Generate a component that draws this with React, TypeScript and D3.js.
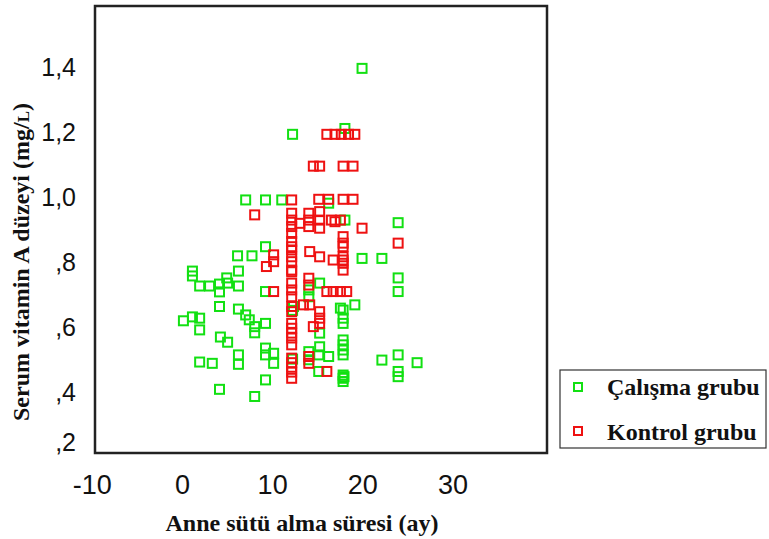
import React from "react";
import * as d3 from "d3";

// Anne sütü alma süresi (ay) vs Serum vitamin A düzeyi (mg/L)
const calismaGrubu: [number, number][] = [
  [6.9, 0.99], [9.1, 0.99], [10.9, 0.99],
  [6.0, 0.818], [7.6, 0.818],
  [1.0, 0.771], [1.0, 0.756], [6.1, 0.771],
  [1.8, 0.725], [2.9, 0.725], [4.0, 0.731], [4.0, 0.707], [4.8, 0.75], [4.9, 0.734], [6.1, 0.725],
  [4.0, 0.662], [6.1, 0.654], [6.9, 0.636], [7.3, 0.621], [7.9, 0.6], [7.9, 0.581],
  [0.0, 0.618], [1.0, 0.63], [1.8, 0.626], [1.8, 0.59],
  [4.1, 0.568], [4.9, 0.552],
  [6.1, 0.513], [6.1, 0.484],
  [1.8, 0.491], [3.2, 0.487],
  [4.0, 0.407], [7.9, 0.385], [9.1, 0.436],
  [9.1, 0.846], [9.1, 0.708], [9.1, 0.61],
  [9.1, 0.534], [9.1, 0.513], [10.0, 0.518], [10.0, 0.487],
  [12.1, 1.192], [12.2, 0.662], [12.1, 0.65], [12.1, 0.5],
  [15.1, 0.734], [13.9, 0.713], [13.9, 0.692],
  [15.1, 0.58], [15.1, 0.538], [16.1, 0.508], [15.0, 0.513], [15.0, 0.462], [13.9, 0.523], [13.9, 0.498],
  [16.1, 0.98], [17.9, 0.928],
  [17.4, 0.657], [19.0, 0.667], [17.7, 0.651], [17.7, 0.626], [17.7, 0.61],
  [17.7, 0.559], [17.7, 0.544], [17.7, 0.528], [17.7, 0.513],
  [17.7, 0.451], [17.7, 0.441], [17.7, 0.431], [17.8, 0.446],
  [19.8, 0.81], [22.0, 0.81],
  [23.8, 0.75], [23.8, 0.708], [23.8, 0.92],
  [22.0, 0.497], [23.8, 0.513], [25.9, 0.489], [23.8, 0.462], [23.8, 0.446],
  [17.9, 1.21], [19.8, 1.395],
];

const kontrolGrubu: [number, number][] = [
  [12, 0.99], [12, 0.949], [12, 0.928], [12, 0.908], [12, 0.887], [12, 0.862], [12, 0.846],
  [12, 0.836], [12, 0.815], [12, 0.8], [12, 0.774], [12, 0.769], [12, 0.734], [12, 0.713],
  [12, 0.692], [12, 0.662], [12, 0.646], [12, 0.61], [12, 0.595], [12, 0.58], [12, 0.565],
  [12, 0.544], [12, 0.503], [12, 0.489], [12, 0.475], [12, 0.46], [12, 0.441],
  [7.9, 0.944],
  [10.0, 0.821], [10.0, 0.8], [9.2, 0.785], [10.0, 0.708],
  [15.9, 1.192], [16.8, 1.192], [17.5, 1.192], [18.3, 1.192], [19.0, 1.192],
  [14.4, 1.094], [15.1, 1.094], [17.7, 1.094], [18.8, 1.094],
  [15.0, 0.992], [16.1, 0.992], [17.7, 0.992], [18.8, 0.992],
  [13.9, 0.949], [13.9, 0.928], [13.9, 0.908], [15.1, 0.954], [15.1, 0.928], [15.1, 0.903],
  [16.4, 0.928], [17.4, 0.928], [12.9, 0.918], [16.8, 0.923],
  [19.8, 0.903],
  [17.7, 0.877], [17.7, 0.857], [17.7, 0.846], [17.7, 0.815], [17.7, 0.805], [17.7, 0.795], [17.7, 0.774],
  [16.6, 0.805], [15.1, 0.815], [23.8, 0.857], [14.0, 0.831],
  [15.9, 0.708], [16.6, 0.708], [17.4, 0.708], [18.1, 0.708],
  [13.9, 0.749], [13.9, 0.728], [13.3, 0.667], [14.0, 0.667],
  [15.1, 0.646], [15.1, 0.626], [15.1, 0.61], [14.4, 0.6],
  [13.9, 0.508], [13.9, 0.487], [15.9, 0.462],
];

const xTicks = [-10, 0, 10, 20, 30];
const yTicks = [0.2, 0.4, 0.6, 0.8, 1.0, 1.2, 1.4];
const legendLabels = ["Çalışma grubu", "Kontrol grubu"];
const seriesColors = ["#12e012", "#ee1111"];

const W = 769;
const H = 539;
const frame = { left: 95, right: 547, top: 6, bottom: 453 };

const fmtY = (v: number) => d3.format(".1f")(v).replace(".", ",").replace(/^0/, "");

export default function App() {
  const x = d3.scaleLinear().domain([-9.8, 40.3]).range([frame.left, frame.right]);
  const y = d3.scaleLinear().domain([0.211, 1.587]).range([frame.bottom, frame.top]);
  const m = 9; // marker inner size

  const series = [calismaGrubu, kontrolGrubu];
  const serif = "Liberation Serif, Times New Roman, serif";
  const sans = "Liberation Sans, Arial, sans-serif";

  return (
    <svg
      width={W}
      height={H}
      style={{ position: "absolute", left: 0, top: 0, background: "#fff" }}
      xmlns="http://www.w3.org/2000/svg"
    >
      <rect x={0} y={0} width={W} height={H} fill="#fff" />
      {/* points */}
      {series.map((data, si) => (
        <g key={si}>
          {data.map(([dx, dy], i) => (
            <rect
              key={i}
              x={x(dx) - m / 2}
              y={y(dy) - m / 2}
              width={m}
              height={m}
              fill="none"
              stroke={seriesColors[si]}
              strokeWidth={2}
            />
          ))}
        </g>
      ))}
      {/* frame */}
      <rect
        x={frame.left}
        y={frame.top}
        width={frame.right - frame.left}
        height={frame.bottom - frame.top}
        fill="none"
        stroke="#222"
        strokeWidth={2.5}
      />
      {/* y tick labels */}
      {yTicks.map((t) => (
        <text
          key={t}
          x={76}
          y={Math.min(y(t), 442) + 9}
          textAnchor="end"
          fontFamily={sans}
          fontSize={25}
          fill="#111"
        >
          {fmtY(t)}
        </text>
      ))}
      {/* x tick labels */}
      {xTicks.map((t) => (
        <text
          key={t}
          x={x(t) - 1}
          y={494}
          textAnchor="middle"
          fontFamily={sans}
          fontSize={27}
          fill="#111"
        >
          {t}
        </text>
      ))}
      {/* axis titles */}
      <text
        x={302}
        y={531}
        textAnchor="middle"
        fontFamily={serif}
        fontWeight="bold"
        fontSize={24}
        fill="#111"
      >
        Anne sütü alma süresi (ay)
      </text>
      <text
        transform={`translate(29, 262) rotate(-90)`}
        textAnchor="middle"
        fontFamily={serif}
        fontWeight="bold"
        fontSize={24}
        fill="#111"
      >
        Serum vitamin A düzeyi (mg/<tspan fontSize={17}>L</tspan>)
      </text>
      {/* legend */}
      <rect x={560} y={370} width={206} height={78} fill="#fff" stroke="#333" strokeWidth={1.2} />
      {legendLabels.map((lab, i) => (
        <g key={lab}>
          <rect
            x={574}
            y={383 + i * 44}
            width={8}
            height={8}
            fill="none"
            stroke={seriesColors[i]}
            strokeWidth={2}
          />
          <text
            x={607}
            y={395 + i * 45}
            fontFamily={serif}
            fontWeight="bold"
            fontSize={24}
            fill="#111"
          >
            {lab}
          </text>
        </g>
      ))}
    </svg>
  );
}
